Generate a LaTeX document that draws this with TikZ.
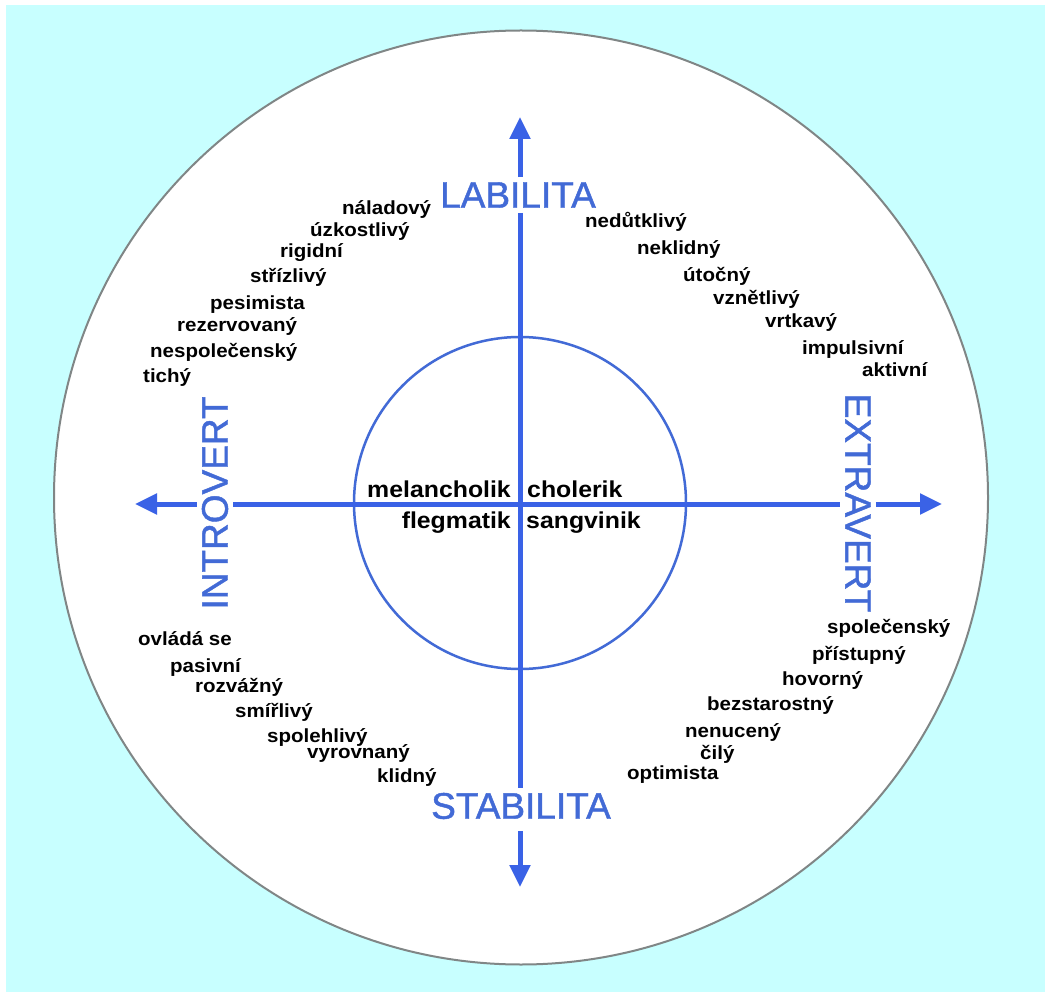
\documentclass[tikz,border=0pt]{standalone}
\usepackage{fontspec}
\newfontfamily\wordfont[FakeStretch=1.08]{Liberation Sans}
\newfontfamily\labelfont[FakeBold=1.2]{Liberation Sans}
\usetikzlibrary{arrows.meta}
\definecolor{skycyan}{RGB}{200,255,255}
\definecolor{axisblue}{RGB}{58,98,230}
\definecolor{labelblue}{RGB}{66,106,214}
\definecolor{rimgray}{RGB}{128,134,134}
\tikzset{
  word/.style={inner sep=0pt, anchor=base west, font=\wordfont\bfseries\fontsize{19pt}{22pt}\selectfont},
  temper/.style={inner sep=0pt, font=\wordfont\bfseries\fontsize{23pt}{26pt}\selectfont},
  pole/.style={inner sep=5pt, text=labelblue, font=\labelfont\fontsize{37pt}{40pt}\selectfont},
  axis/.style={draw=axisblue, line width=5pt},
  axisarrow/.style={axis, -{Triangle[width=20pt,length=22pt]}},
}
\begin{document}
\begin{tikzpicture}[x=1pt,y=-1pt]
\useasboundingbox (0,0) rectangle (1045,992);
\fill[white] (0,0) rectangle (1045,992);
\fill[skycyan] (6,5) rectangle (1046,993);
\filldraw[fill=white, draw=rimgray, line width=2pt] (521,497.5) circle[radius=467pt];
\draw[draw=labelblue, line width=2.5pt] (520,503) circle[radius=166pt];

\coordinate (mid) at (520,504);
\coordinate (up) at (520,117);
\coordinate (down) at (520,887);
\coordinate (left) at (135,504);
\coordinate (right) at (942,504);

\node[pole] (lab) at (518,195) {LABILITA};
\node[pole] (stab) at (521,806) {STABILITA};
\node[pole, rotate=90] (intro) at (215,503) {INTROVERT};
\node[pole, rotate=-90] (extra) at (858,503) {EXTRAVERT};

\path[axisarrow] (mid |- lab.north) -- (up);
\path[axis] (mid |- lab.south) -- (mid |- stab.north);
\path[axisarrow, shorten <=7pt] (mid |- stab.south) -- (down);
\path[axisarrow] (intro.north |- mid) -- (left);
\path[axis] (intro.south |- mid) -- (extra.south |- mid);
\path[axisarrow] (extra.north |- mid) -- (right);

\node[temper, anchor=base east] (mel) at (511,497) {melancholik};
\node[temper, anchor=base west] (cho) at (527,497) {cholerik};
\node[temper, anchor=base east] (fle) at (511,528) {flegmatik};
\node[temper, anchor=base west] (san) at (526,528) {sangvinik};

% labilni introvert
\node[word] (nal) at (342,215) {náladový};
\node[word] (uzk) at (310,237) {úzkostlivý};
\node[word] (rig) at (280,258) {rigidní};
\node[word] (str) at (250,283) {střízlivý};
\node[word] (pes) at (210,310) {pesimista};
\node[word] (rez) at (177,332) {rezervovaný};
\node[word] (nes) at (150,358) {nespolečenský};
\node[word] (tic) at (143,383) {tichý};

% labilni extravert
\node[word] (ned) at (585,228) {nedůtklivý};
\node[word] (nek) at (637,255) {neklidný};
\node[word] (uto) at (683,282) {útočný};
\node[word] (vzn) at (713,305) {vznětlivý};
\node[word] (vrt) at (765,328) {vrtkavý};
\node[word] (imp) at (802,355) {impulsivní};
\node[word] (akt) at (862,377) {aktivní};

% stabilni introvert
\node[word] (ovl) at (138,645) {ovládá se};
\node[word] (pas) at (170,672) {pasivní};
\node[word] (roz) at (195,692) {rozvážný};
\node[word] (smi) at (235,717) {smířlivý};
\node[word] (spo) at (267,742) {spolehlivý};
\node[word] (vyr) at (307,758) {vyrovnaný};
\node[word] (kli) at (377,782) {klidný};

% stabilni extravert
\node[word] (spl) at (827,633) {společenský};
\node[word] (pri) at (812,660) {přístupný};
\node[word] (hov) at (782,685) {hovorný};
\node[word] (bez) at (707,710) {bezstarostný};
\node[word] (nen) at (685,737) {nenucený};
\node[word] (cil) at (700,759) {čilý};
\node[word] (opt) at (627,779) {optimista};
\end{tikzpicture}
\end{document}
